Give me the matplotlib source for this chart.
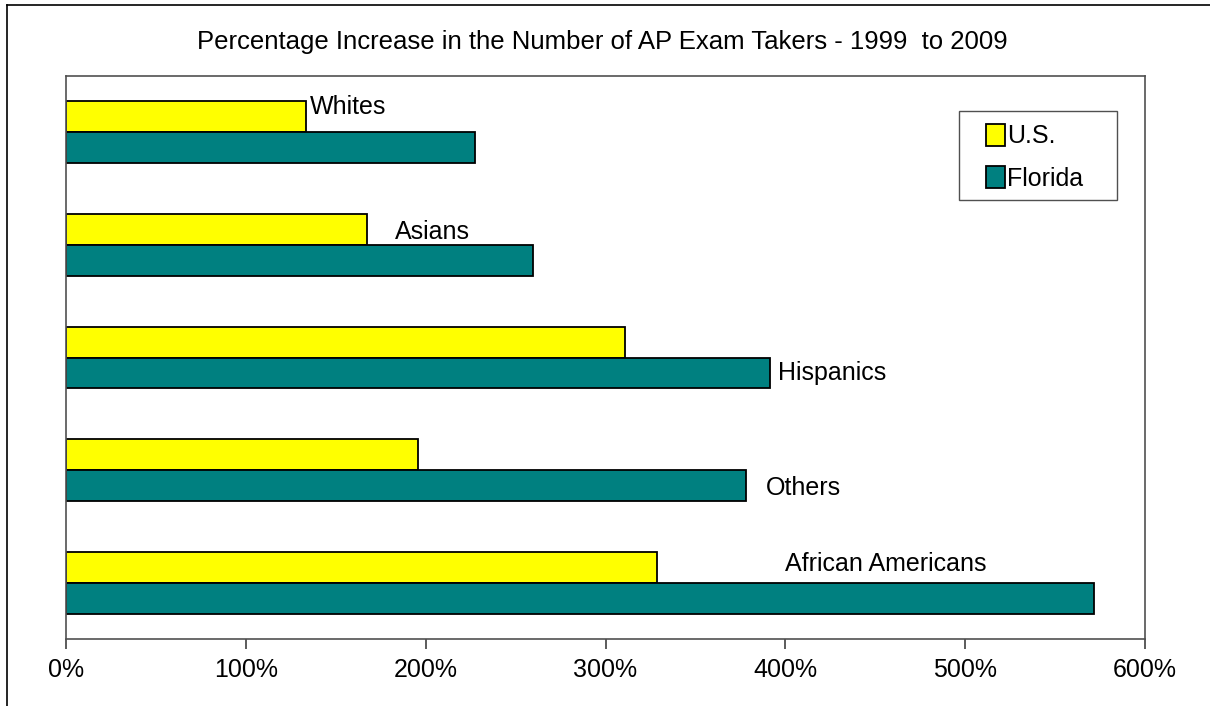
import numpy as np
import matplotlib.pyplot as plt
from matplotlib.lines import Line2D
from matplotlib.patches import Rectangle

plt.rcParams['font.family'] = ['Liberation Sans', 'DejaVu Sans']

groups = ["Whites", "Asians", "Hispanics", "Others", "African Americans"]
us_pct = [133.5, 167.4, 310.9, 195.8, 328.8]
florida_pct = [227.5, 259.7, 391.5, 378.2, 571.8]
xticks = [0, 100, 200, 300, 400, 500, 600]
xtick_labels = ["0%", "100%", "200%", "300%", "400%", "500%", "600%"]

# where each group's label sits (x in %, y in category units)
label_x = [135.7, 183.0, 396.0, 389.0, 400.0]
label_y = [-0.225, 0.885, 2.14, 3.16, 3.83]

fig = plt.figure(figsize=(12.1, 7.06), dpi=100)
ax = fig.add_axes([66/1210, 1 - 639/706, (1145 - 66)/1210, (639 - 76)/706])

y = np.arange(len(groups))
h = 0.275
ax.barh(y - h/2, us_pct, height=h, color="#FFFF00", edgecolor="black",
        linewidth=1.3, label="U.S.")
ax.barh(y + h/2, florida_pct, height=h, color="#008080", edgecolor="black",
        linewidth=1.3, label="Florida")

for name, lx, ly in zip(groups, label_x, label_y):
    ax.text(lx, ly, name, fontsize=18, va="center", ha="left")

ax.set_xlim(0, 600)
ax.set_ylim(4.5, -0.5)
ax.set_xticks(xticks)
ax.set_xticklabels(xtick_labels, fontsize=18)
ax.set_yticks([])
ax.tick_params(axis="x", direction="out", length=7, width=1.2,
               color="#404040", pad=7)
for s in ax.spines.values():
    s.set_color("#505050")
    s.set_linewidth(1.2)

# legend without its own frame; the box is drawn separately
leg = ax.legend(loc="upper left", bbox_to_anchor=(986/1210, 1 - 124/706),
                bbox_transform=fig.transFigure, fontsize=18,
                frameon=False, handlelength=0.75, handleheight=0.95,
                handletextpad=0.1, labelspacing=0.72,
                borderpad=0, borderaxespad=0)
fig.add_artist(Rectangle((959/1210, 1 - 200/706), 158/1210, 89/706,
                         transform=fig.transFigure, fill=False,
                         edgecolor="#505050", linewidth=1.0))

fig.text(0.498, 1 - 49/706, "Percentage Increase in the Number of AP Exam Takers - 1999  to 2009",
         fontsize=18.5, ha="center", va="baseline")

# outer chart border (only left and top visible)
fig.add_artist(Line2D([7/1210, 7/1210], [0, 1 - 5/706], transform=fig.transFigure,
                      color="black", linewidth=1.2))
fig.add_artist(Line2D([7/1210, 1], [1 - 5/706, 1 - 5/706], transform=fig.transFigure,
                      color="black", linewidth=1.2))

fig.savefig("out.png", dpi=100)
